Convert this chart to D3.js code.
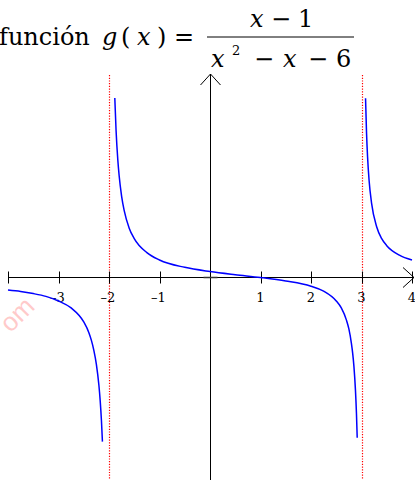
<!DOCTYPE html>
<html>
<head>
<meta charset="utf-8">
<script src="https://cdn.jsdelivr.net/npm/d3@7"></script>
<style>
  body { margin: 0; background: #fff; }
  svg { display: block; }
</style>
</head>
<body>
<div id="chart"></div>
<script>
// values
const xTicks = [-3, -2, -1, 1, 2, 3, 4];
const xTickLabels = ["–3", "–2", "–1", "1", "2", "3", "4"];
const asymptotes = [-2, 3];

const leftX = [-4, -3.75, -3.5, -3.25, -3, -2.75, -2.5, -2.4, -2.35, -2.3, -2.25, -2.2, -2.175, -2.15, -2.13];
const leftY = [-0.36, -0.40, -0.46, -0.54, -0.67, -0.87, -1.27, -1.57, -1.79, -2.08, -2.48, -3.08, -3.51, -4.08, -4.69];

const midX = [-1.885, -1.86, -1.825, -1.8, -1.75, -1.7, -1.6, -1.5, -1.25, -1, -0.5, 0, 0.5, 1, 1.5, 2, 2.25, 2.5, 2.6, 2.7, 2.75, 2.8, 2.825, 2.85, 2.88, 2.9, 2.915];
const midY = [5.13, 4.20, 3.35, 2.92, 2.32, 1.92, 1.41, 1.11, 0.71, 0.5, 0.29, 0.17, 0.08, 0, -0.10, -0.25, -0.39, -0.67, -0.87, -1.21, -1.47, -1.88, -2.16, -2.54, -3.21, -3.88, -4.58];

const rightX = [3.08, 3.1, 3.12, 3.15, 3.2, 3.3, 3.4, 3.5, 3.75, 4];
const rightY = [5.12, 4.12, 3.45, 2.78, 2.12, 1.45, 1.11, 0.91, 0.64, 0.5];

const width = 415, height = 480;
const serif = "'DejaVu Serif', serif";

const svg = d3.select("#chart").append("svg")
    .attr("width", width)
    .attr("height", height);

const x = d3.scaleLinear().domain([-4, 4]).range([8, 412]);
const y = d3.scaleLinear().domain([-6, 6]).range([487.5, 67.5]);

// watermark
svg.append("text")
    .attr("transform", "translate(36,308) rotate(-45)")
    .attr("text-anchor", "end")
    .style("font-family", "'Liberation Sans', Arial, sans-serif")
    .style("font-size", "26px")
    .attr("fill", "#ffcaca")
    .text("om");

// asymptotes
svg.selectAll(".asym")
    .data(asymptotes)
    .enter()
    .append("line")
    .attr("class", "asym")
    .attr("x1", d => Math.round(x(d)) + 0.5).attr("x2", d => Math.round(x(d)) + 0.5)
    .attr("y1", 75).attr("y2", height)
    .attr("stroke", "#ff0000")
    .attr("stroke-width", 1.2)
    .attr("stroke-dasharray", "1.2,1.5");

// axes
const y0 = y(0), x0 = x(0) + 0.5;
const axes = svg.append("g").attr("stroke", "#000").attr("fill", "none").attr("stroke-width", 1);
axes.append("line").attr("x1", 8).attr("x2", 414).attr("y1", y0).attr("y2", y0);
axes.append("line").attr("x1", x0).attr("x2", x0).attr("y1", 74).attr("y2", height);
axes.append("path").attr("d", `M403,${y0 - 10}L414,${y0}L403,${y0 + 10}`);
axes.append("path").attr("d", `M${x0 - 10},85L${x0},74L${x0 + 10},85`);
axes.append("line").attr("x1", x0 - 7).attr("x2", x0 + 7).attr("y1", y0).attr("y2", y0)
    .attr("stroke", "#333").attr("stroke-width", 1.5);

// ticks
axes.selectAll(".tick")
    .data([-4].concat(xTicks))
    .enter()
    .append("line")
    .attr("x1", d => Math.round(x(d)) + 0.5).attr("x2", d => Math.round(x(d)) + 0.5)
    .attr("y1", y0 - 6).attr("y2", y0 + 6);

svg.selectAll(".tlabel")
    .data(xTicks)
    .enter()
    .append("text")
    .attr("x", d => x(d) + (d < 0 ? -1 : 0))
    .attr("y", 302)
    .attr("text-anchor", "middle")
    .style("font-family", serif)
    .style("font-size", "13px")
    .text((d, i) => xTickLabels[i]);

// function branches
const line = d3.line()
    .x(d => x(d[0]))
    .y(d => y(d[1]))
    .curve(d3.curveMonotoneX);

const branches = [
    d3.zip(leftX, leftY),
    d3.zip(midX, midY),
    d3.zip(rightX, rightY)
];

svg.selectAll(".branch")
    .data(branches)
    .enter()
    .append("path")
    .attr("class", "branch")
    .attr("d", line)
    .attr("fill", "none")
    .attr("stroke", "#0000ff")
    .attr("stroke-width", 1.5);

// title
const title = svg.append("g").attr("fill", "#000");
title.append("text").attr("x", -1).attr("y", 45)
    .style("font-family", serif).style("font-size", "24px").text("función");
const mathPieces = [
    {t: "g", x: 102, y: 45, it: true},
    {t: "(", x: 121, y: 45},
    {t: "x", x: 137, y: 45, it: true},
    {t: ")", x: 157, y: 45},
    {t: "=", x: 174, y: 45},
    {t: "x", x: 250, y: 27, it: true},
    {t: "−", x: 271, y: 27},
    {t: "1", x: 298, y: 27},
    {t: "x", x: 211, y: 67, it: true},
    {t: "−", x: 254, y: 67},
    {t: "x", x: 283, y: 67, it: true},
    {t: "−", x: 308, y: 67},
    {t: "6", x: 336, y: 67}
];
title.selectAll(".m")
    .data(mathPieces)
    .enter()
    .append("text")
    .attr("x", d => d.x)
    .attr("y", d => d.y)
    .style("font-family", serif)
    .style("font-size", "24px")
    .style("font-style", d => d.it ? "italic" : "normal")
    .text(d => d.t);
title.append("text").attr("x", 232).attr("y", 55)
    .style("font-family", serif).style("font-size", "13px").text("2");
title.append("line")
    .attr("x1", 207).attr("x2", 354).attr("y1", 37).attr("y2", 37)
    .attr("stroke", "#000").attr("stroke-width", 1);
</script>
</body>
</html>
